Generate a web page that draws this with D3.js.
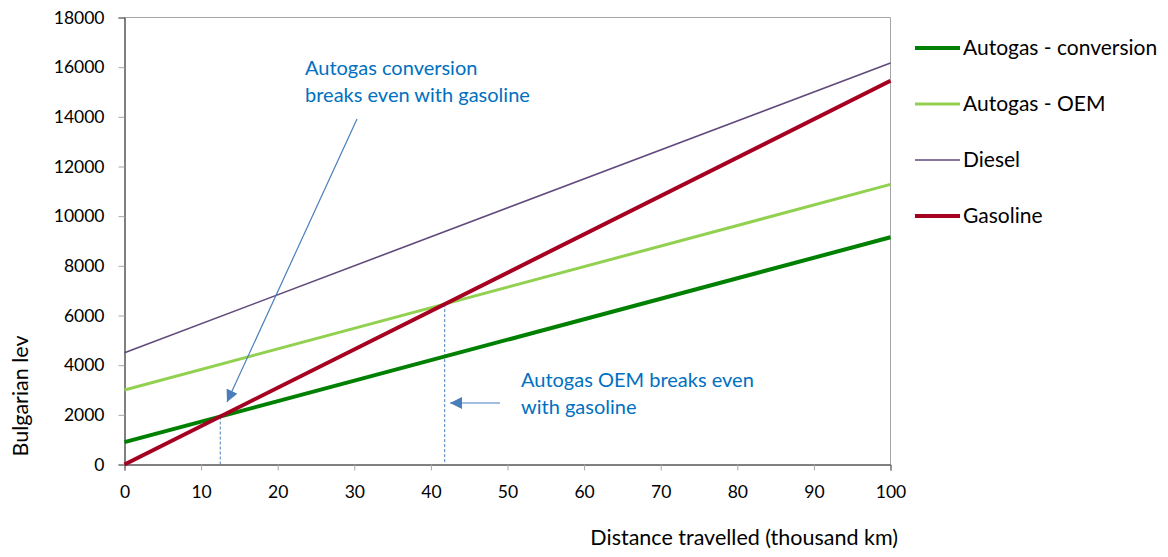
<!DOCTYPE html>
<html>
<head>
<meta charset="utf-8">
<script src="https://cdn.jsdelivr.net/npm/d3@7"></script>
<style>
  html, body { margin: 0; padding: 0; background: #fff; }
  svg { display: block; font-family: Lato, "Open Sans", sans-serif; }
</style>
</head>
<body>
<svg id="chart" width="1168" height="557"></svg>
<script>
// Cumulative cost (Bulgarian lev) against distance travelled (thousand km)
const distanceKm = [0, 100];
const autogasConversion = [900, 9150];
const autogasOEM = [3000, 11280];
const diesel = [4500, 16170];
const gasoline = [0, 15450];

const seriesNames = ["Autogas - conversion", "Autogas - OEM", "Diesel", "Gasoline"];
const seriesValues = [autogasConversion, autogasOEM, diesel, gasoline];
const seriesColors = ["#008000", "#92D050", "#604A7B", "#A50021"];
const seriesWidths = [4, 3, 1.6, 4];

const xTicks = [0, 10, 20, 30, 40, 50, 60, 70, 80, 90, 100];
const yTicks = [0, 2000, 4000, 6000, 8000, 10000, 12000, 14000, 16000, 18000];

// Break-even distances (thousand km) where gasoline meets each autogas line
const breakEvenKm = [12.5, 41.8];

const svg = d3.select("#chart");
const x = d3.scaleLinear().domain([0, 100]).range([124.5, 890.5]);
const y = d3.scaleLinear().domain([0, 18000]).range([464.5, 17.5]);

// plot frame: grey top/right, black axes
svg.append("path")
  .attr("d", `M${x(0)},${y(18000)}H${x(100)}V${y(0)}`)
  .attr("fill", "none").attr("stroke", "#A6A6A6").attr("stroke-width", 1);

// y axis
const yAxis = svg.append("g").attr("transform", `translate(${x(0)},0)`)
  .call(d3.axisLeft(y).tickValues(yTicks).tickSize(6).tickPadding(14).tickFormat(d3.format("d")));
yAxis.select(".domain").attr("stroke", "#000");
yAxis.selectAll(".tick line").attr("stroke", "#A6A6A6");
yAxis.selectAll(".tick text").attr("font-size", 17.5).attr("fill", "#000")
  .attr("font-family", "Lato, sans-serif");

// x axis
const xAxis = svg.append("g").attr("transform", `translate(0,${y(0)})`)
  .call(d3.axisBottom(x).tickValues(xTicks).tickSize(6).tickPadding(15).tickFormat(d3.format("d")));
xAxis.select(".domain").attr("stroke", "#000");
xAxis.selectAll(".tick line").attr("stroke", "#A6A6A6");
xAxis.selectAll(".tick text").attr("font-size", 17.5).attr("fill", "#000")
  .attr("font-family", "Lato, sans-serif");

// axis titles
svg.append("text")
  .attr("transform", `translate(28,${396}) rotate(-90)`)
  .attr("text-anchor", "middle").attr("font-size", 21.5).attr("fill", "#000")
  .text("Bulgarian lev");
svg.append("text")
  .attr("x", 898).attr("y", 545)
  .attr("text-anchor", "end").attr("font-size", 21.5).attr("fill", "#000")
  .text("Distance travelled (thousand km)");

// break-even drop lines
const annotColor = "#4A7EBB";
const gasAt = k => d3.scaleLinear().domain(distanceKm).range(gasoline)(k);
svg.append("g").selectAll("line").data(breakEvenKm).join("line")
  .attr("x1", d => x(d)).attr("x2", d => x(d))
  .attr("y1", d => y(gasAt(d))).attr("y2", y(0))
  .attr("stroke", annotColor).attr("stroke-width", 1)
  .attr("stroke-dasharray", "3,2");

// series lines
const line = d3.line().x(d => x(d[0])).y(d => y(d[1]));
svg.append("g").selectAll("path").data(seriesValues).join("path")
  .attr("d", v => line(distanceKm.map((k, i) => [k, v[i]])))
  .attr("fill", "none")
  .attr("stroke", (v, i) => seriesColors[i])
  .attr("stroke-width", (v, i) => seriesWidths[i]);

// annotation arrows
const defs = svg.append("defs");
defs.append("marker").attr("id", "arrowHead")
  .attr("viewBox", "0 0 10 10").attr("refX", 10).attr("refY", 5)
  .attr("markerWidth", 12).attr("markerHeight", 12)
  .attr("markerUnits", "userSpaceOnUse").attr("orient", "auto")
  .append("path").attr("d", "M0,0L10,5L0,10Z").attr("fill", annotColor);

svg.append("line")
  .attr("x1", 357).attr("y1", 119).attr("x2", 227).attr("y2", 402)
  .attr("stroke", annotColor).attr("stroke-width", 1.2)
  .attr("marker-end", "url(#arrowHead)");
svg.append("line")
  .attr("x1", 500).attr("y1", 403).attr("x2", 450).attr("y2", 403)
  .attr("stroke", annotColor).attr("stroke-width", 1.2)
  .attr("marker-end", "url(#arrowHead)");

// annotation text
const noteColor = "#0070C0";
const note1 = svg.append("text").attr("font-size", 20).attr("fill", noteColor);
note1.append("tspan").attr("x", 305).attr("y", 75).text("Autogas conversion");
note1.append("tspan").attr("x", 305).attr("y", 102).text("breaks even with gasoline");
const note2 = svg.append("text").attr("font-size", 20).attr("fill", noteColor);
note2.append("tspan").attr("x", 521).attr("y", 387).text("Autogas OEM breaks even");
note2.append("tspan").attr("x", 521).attr("y", 414).text("with gasoline");

// legend
const legend = svg.append("g").selectAll("g").data(seriesNames).join("g")
  .attr("transform", (d, i) => `translate(915,${48 + i * 56})`);
legend.append("line").attr("x1", 0).attr("x2", 45).attr("y1", 0).attr("y2", 0)
  .attr("stroke", (d, i) => seriesColors[i])
  .attr("stroke-width", (d, i) => seriesWidths[i]);
legend.append("text").attr("x", 48).attr("y", 0).attr("dy", "0.35em")
  .attr("font-size", 21).attr("fill", "#000").text(d => d);
</script>
</body>
</html>
